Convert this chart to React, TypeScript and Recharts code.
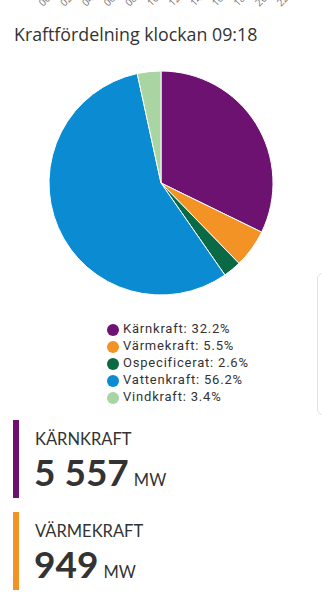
import { Cell, Legend, LineChart, Line, Pie, PieChart, XAxis, YAxis } from 'recharts'

const hourLabels = ['00:00', '02:00', '04:00', '06:00', '08:00', '10:00', '12:00', '14:00', '16:00', '18:00', '20:00', '22:00']
const hourValues = [0, 0, 0, 0, 0, 0, 0, 0, 0, 0, 0, 0]

const sourceNames = ['Kärnkraft', 'Värmekraft', 'Ospecificerat', 'Vattenkraft', 'Vindkraft']
const sourceShares = [32.2, 5.5, 2.6, 56.2, 3.4]
const sourceColors = ['#6e1272', '#f39325', '#0a6a45', '#0a8bd2', '#a8d5a2']

const cardNames = ['KÄRNKRAFT', 'VÄRMEKRAFT']
const cardValues = ['5 557', '949']
const cardColors = ['#6e1272', '#f39325']

const pieData = sourceNames.map((name, i) => ({ name, value: sourceShares[i] }))
const hourData = hourLabels.map((hour, i) => ({ hour, v: hourValues[i] }))

const textColor = '#333'

export default function App() {
  return (
    <div
      style={{
        position: 'absolute',
        left: 0,
        top: 0,
        width: 322,
        height: 600,
        background: '#fff',
        overflow: 'hidden',
        fontFamily: 'Lato, sans-serif',
        color: textColor,
      }}
    >
      {/* tail end of the previous chart's x axis, cut off at the top */}
      <div style={{ position: 'absolute', left: 0, top: 0, width: 322, height: 13, overflow: 'hidden' }}>
        <div style={{ position: 'absolute', left: 0, top: -44 }}>
          <LineChart width={322} height={70} data={hourData} margin={{ top: 0, right: 28, bottom: 0, left: 56 }}>
            <XAxis
              dataKey="hour"
              interval={0}
              angle={-45}
              textAnchor="end"
              axisLine={false}
              tickLine={false}
              height={50}
              tick={{ fill: '#777', fontSize: 10, fontFamily: 'Open Sans' }}
            />
            <YAxis hide />
            <Line dataKey="v" stroke="none" dot={false} isAnimationActive={false} />
          </LineChart>
        </div>
      </div>

      <div
        style={{
          position: 'absolute',
          left: 14,
          top: 22,
          fontFamily: 'Open Sans',
          fontSize: 17.8,
          fontWeight: 400,
          color: textColor,
          whiteSpace: 'nowrap',
        }}
      >
        Kraftfördelning klockan 09:18
      </div>

      <div style={{ position: 'absolute', left: 0, top: 0 }}>
        <PieChart width={322} height={412} margin={{ top: 0, right: 0, bottom: 0, left: 0 }}>
          <Pie
            data={pieData}
            dataKey="value"
            nameKey="name"
            cx={161}
            cy={183}
            outerRadius={112}
            startAngle={90}
            endAngle={-270}
            stroke="#fff"
            strokeWidth={1}
            isAnimationActive={false}
          >
            {pieData.map((d, i) => (
              <Cell key={d.name} fill={sourceColors[i]} />
            ))}
          </Pie>
          <Legend
            layout="vertical"
            align="center"
            verticalAlign="bottom"
            iconType="circle"
            iconSize={12}
            itemSorter={(item: { value: string }) => sourceNames.indexOf(item.value)}
            wrapperStyle={{
              left: 107,
              top: 320,
              bottom: 'auto',
              fontFamily: 'Roboto',
              fontSize: 13,
              letterSpacing: 0.8,
              lineHeight: '17px',
            }}
            formatter={(value: string) => (
              <span style={{ color: textColor }}>{`${value}: ${sourceShares[sourceNames.indexOf(value)]}%`}</span>
            )}
          />
        </PieChart>
      </div>

      {/* faint edge of a side panel */}
      <div
        style={{
          position: 'absolute',
          left: 317,
          top: 273,
          width: 12,
          height: 140,
          border: '1px solid #e2e2e2',
          borderRadius: 6,
        }}
      />

      {cardNames.map((name, i) => (
        <div
          key={name}
          style={{ position: 'absolute', left: 13, top: 420 + i * 92, height: 78, width: 280 }}
        >
          <div style={{ position: 'absolute', left: 0, top: 0, width: 6, height: 78, background: cardColors[i] }} />
          <div style={{ position: 'absolute', left: 22, top: 9, fontSize: 16.5, whiteSpace: 'nowrap' }}>{name}</div>
          <div style={{ position: 'absolute', left: 21, top: 29, whiteSpace: 'nowrap' }}>
            <span style={{ fontSize: 37, fontWeight: 700 }}>{cardValues[i]}</span>
            <span style={{ fontSize: 16.5, marginLeft: 5 }}>MW</span>
          </div>
        </div>
      ))}
    </div>
  )
}
